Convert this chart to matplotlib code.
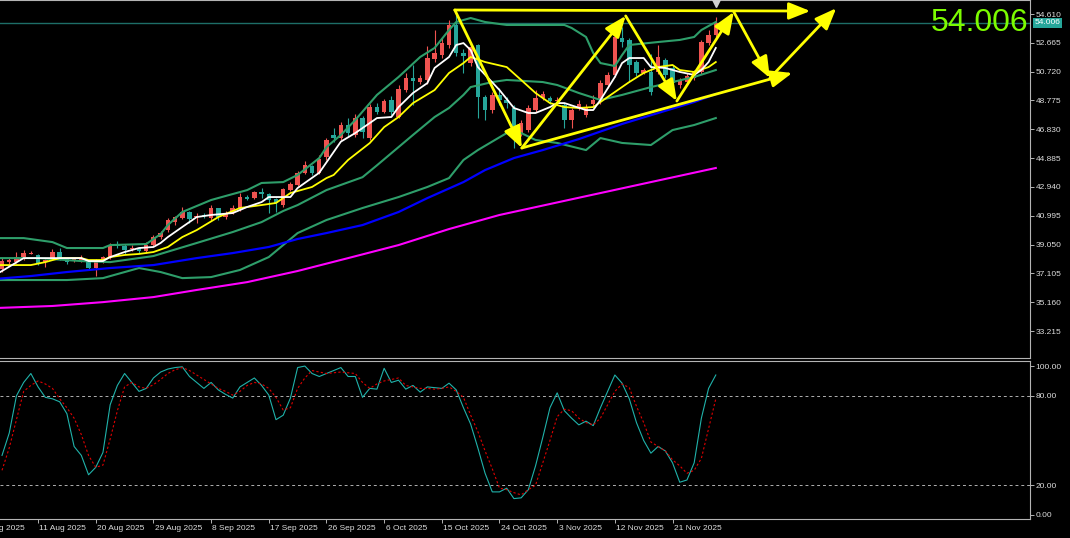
import matplotlib
matplotlib.use("Agg")
import matplotlib.pyplot as plt

plt.rcParams['font.family'] = ['Liberation Sans', 'DejaVu Sans']

# daily candles, bar 0 = 31 Jul 2025 ... bar 99 = 28 Nov 2025 (Sunday bars included)
opens = [37.40, 37.87, 37.87, 38.21, 38.45, 38.35, 37.87, 38.15, 38.55, 38.10,
         37.95, 38.00, 37.85, 37.45, 37.90, 38.15, 39.00, 38.95, 38.75, 38.80,
         38.60, 39.05, 39.55, 40.03, 40.55, 40.85, 41.25, 40.90, 41.05, 40.85,
         41.50, 40.90, 41.20, 41.50, 42.25, 42.20, 42.60, 42.45, 42.10, 41.70,
         42.75, 43.10, 43.85, 44.35, 43.90, 44.96, 46.45, 46.24, 47.12, 46.45,
         47.59, 46.24, 48.33, 48.00, 48.81, 47.66, 49.48, 50.29, 50.02, 50.16,
         51.57, 51.84, 52.52, 53.87, 51.98, 51.30, 52.52, 49.01, 48.13, 49.15,
         48.81, 48.27, 46.58, 46.78, 48.13, 48.94, 48.94, 48.74, 48.47, 47.46,
         48.27, 47.80, 48.54, 48.81, 49.82, 50.50, 52.99, 52.86, 51.37, 50.63,
         50.70, 50.70, 51.51, 50.97, 49.82, 50.02, 50.29, 50.70, 52.65, 53.19]
highs = [38.14, 38.14, 38.55, 38.70, 38.60, 38.45, 38.10, 38.75, 38.85, 38.15,
         38.10, 38.35, 37.90, 38.05, 38.30, 39.15, 39.30, 39.10, 39.00, 38.90,
         39.20, 39.70, 40.00, 40.85, 41.00, 41.60, 41.30, 41.20, 41.15, 41.70,
         41.55, 41.30, 41.70, 42.50, 42.40, 42.70, 42.90, 42.55, 42.20, 42.90,
         43.30, 44.00, 44.70, 44.40, 45.10, 46.24, 46.92, 47.32, 47.59, 47.86,
         47.73, 48.54, 48.60, 48.87, 49.08, 49.82, 50.63, 51.17, 50.50, 52.45,
         53.53, 52.99, 54.21, 54.54, 52.25, 52.72, 52.59, 49.15, 49.35, 49.62,
         49.01, 48.47, 47.46, 48.47, 49.48, 49.41, 49.08, 49.01, 48.60, 48.27,
         48.81, 48.54, 49.15, 50.16, 50.70, 53.40, 53.73, 52.99, 51.51, 50.97,
         51.91, 52.52, 51.64, 51.17, 50.29, 50.63, 50.83, 52.86, 53.53, 54.41]
lows = [37.20, 37.74, 37.80, 38.00, 38.40, 37.70, 37.55, 38.05, 38.00, 37.75,
        37.90, 37.90, 37.35, 36.95, 37.80, 38.10, 38.80, 38.40, 38.60, 38.50,
        38.50, 38.95, 39.45, 39.90, 40.40, 40.80, 40.50, 40.50, 40.85, 40.70,
        40.70, 40.80, 41.10, 41.30, 42.05, 42.10, 42.20, 41.20, 41.25, 41.60,
        42.70, 43.00, 43.80, 43.75, 43.80, 44.76, 45.97, 46.11, 46.38, 46.31,
        46.24, 46.11, 47.86, 47.93, 47.80, 47.59, 49.35, 48.47, 49.89, 49.89,
        51.37, 51.64, 52.32, 51.78, 50.63, 51.10, 47.59, 47.46, 47.93, 48.47,
        48.27, 45.57, 46.38, 46.65, 48.00, 48.81, 48.54, 48.60, 46.92, 46.92,
        48.13, 47.66, 48.40, 48.54, 49.62, 50.36, 52.38, 50.02, 50.43, 50.56,
        49.15, 50.56, 50.29, 49.68, 49.62, 49.89, 50.16, 50.56, 52.52, 53.06]
closes = [37.94, 38.00, 38.21, 38.48, 38.50, 37.80, 38.00, 38.55, 38.15, 37.90,
          38.05, 38.05, 37.45, 38.00, 38.20, 39.00, 38.95, 38.70, 38.80, 38.60,
          39.05, 39.55, 39.85, 40.70, 40.90, 41.25, 40.80, 41.00, 40.95, 41.50,
          40.90, 41.20, 41.55, 42.25, 42.15, 42.60, 42.45, 42.05, 41.85, 42.80,
          43.15, 43.90, 44.40, 43.85, 44.80, 46.11, 46.24, 47.12, 46.58, 47.59,
          46.65, 48.33, 48.00, 48.74, 48.00, 49.55, 50.29, 50.09, 50.29, 51.64,
          51.98, 52.65, 53.87, 51.98, 51.78, 52.38, 49.01, 48.13, 49.15, 48.81,
          48.60, 46.58, 47.25, 48.27, 48.94, 49.21, 48.74, 48.81, 47.46, 48.13,
          48.54, 48.33, 48.81, 49.95, 50.50, 53.06, 52.72, 51.17, 50.63, 50.83,
          49.35, 51.71, 50.50, 49.95, 50.16, 50.43, 50.70, 52.72, 53.19, 54.006]
last_price = 54.006

# indicator lines (bar index, price)
bb_up_i = [-1, 3, 7, 9, 14, 15, 20, 22, 23, 25, 29, 31, 34, 36, 39, 41, 44, 45, 47, 49, 52, 55, 58, 60,
           62, 63, 65, 67, 70, 74, 78, 79, 81, 82, 83, 85, 86, 87, 91, 94, 96, 97, 99]
bb_up = [39.49, 39.49, 39.22, 38.82, 38.82, 39.02, 39.09, 39.76, 40.37, 41.25, 42.06, 42.33, 42.73, 43.21,
         43.27, 43.75, 44.89, 45.63, 46.45, 47.46, 49.15, 50.36, 51.71, 52.32, 53.53, 54.07, 54.34, 54.07,
         53.87, 53.87, 53.87, 53.67, 53.06, 51.98, 51.30, 51.10, 51.84, 52.52, 52.72, 52.86, 53.06, 53.53, 54.07]
bb_mid_i = [-1, 5, 11, 15, 21, 27, 32, 36, 39, 41, 45, 50, 52, 57, 60, 62, 64, 65, 68, 70, 75, 77, 80, 83,
            86, 90, 93, 96, 99]
bb_mid = [38.14, 38.14, 37.94, 37.87, 38.28, 39.16, 39.90, 40.57, 41.32, 41.72, 42.73, 43.60, 44.40, 46.45,
          47.66, 48.27, 49.15, 49.68, 50.02, 50.16, 50.02, 49.82, 49.28, 48.81, 49.15, 49.68, 50.02, 50.36, 50.83]
bb_lo_i = [-1, 9, 14, 19, 22, 25, 29, 33, 37, 41, 45, 50, 55, 59, 62, 64, 66, 70, 72, 74, 77, 81, 83, 86,
           90, 93, 96, 99]
bb_lo = [36.66, 36.66, 36.79, 37.47, 37.20, 36.79, 36.86, 37.34, 38.21, 39.83, 40.71, 41.52, 42.26, 42.94,
         43.54, 44.76, 45.43, 46.58, 46.58, 46.11, 45.91, 45.43, 46.24, 45.91, 45.77, 46.78, 47.12, 47.59]
white_i = [-1, 0, 3, 8, 11, 12, 14, 15, 17, 19, 21, 22, 23, 25, 27, 29, 32, 34, 36, 37, 40, 41, 44, 45, 46,
           47, 49, 51, 52, 54, 55, 57, 59, 60, 62, 63, 64, 65, 66, 69, 71, 73, 74, 76, 77, 78, 81, 82, 83, 85,
           86, 87, 89, 90, 92, 94, 96, 97, 98, 99]
white = [37.0, 37.27, 38.14, 38.14, 38.14, 37.94, 37.94, 38.21, 38.55, 38.82, 38.89, 39.16, 39.56, 40.24,
         40.91, 41.05, 41.18, 41.59, 41.92, 42.26, 42.26, 42.87, 43.90, 44.60, 45.30, 46.00, 46.58, 47.25,
         47.59, 47.66, 48.33, 49.28, 49.95, 50.97, 51.71, 52.52, 52.65, 52.18, 51.03, 49.48, 48.27, 47.93,
         47.93, 48.33, 48.60, 48.60, 48.13, 48.13, 48.81, 50.36, 51.30, 51.64, 51.64, 51.03, 50.97, 50.70,
         50.50, 50.83, 51.37, 52.32]
yellow_i = [-1, 0, 4, 6, 8, 10, 11, 12, 14, 15, 17, 19, 21, 23, 25, 27, 30, 33, 36, 38, 40, 43, 45, 46, 48,
            51, 53, 55, 57, 60, 62, 64, 65, 67, 70, 72, 74, 76, 78, 80, 82, 84, 87, 89, 91, 93, 94, 96, 98, 99]
yellow = [37.67, 37.67, 37.67, 37.87, 38.14, 38.14, 38.14, 38.01, 38.01, 38.21, 38.35, 38.42, 38.55, 38.89,
          39.56, 40.03, 40.91, 41.52, 41.72, 41.86, 42.53, 42.94, 43.54, 43.75, 44.76, 45.90, 46.98, 47.66,
          48.60, 49.48, 50.63, 51.30, 51.71, 51.37, 51.03, 50.16, 49.28, 48.60, 48.33, 48.27, 48.33, 49.01,
          50.02, 50.63, 51.03, 51.17, 50.83, 50.70, 51.03, 51.37]
blue_i = [-1, 4, 9, 15, 21, 27, 32, 37, 41, 45, 50, 55, 59, 64, 67, 71, 75, 80, 86, 91, 96, 99]
blue = [36.73, 36.93, 37.20, 37.47, 37.67, 38.14, 38.48, 38.89, 39.43, 39.83, 40.37, 41.25, 42.19, 43.27,
        44.08, 44.89, 45.43, 46.17, 47.19, 47.93, 48.67, 49.21]
magenta_i = [-1, 7, 14, 21, 27, 34, 41, 48, 55, 62, 69, 76, 83, 90, 99]
magenta = [34.77, 34.91, 35.17, 35.51, 35.99, 36.52, 37.27, 38.14, 39.02, 40.10, 41.05, 41.79, 42.53,
           43.27, 44.22]

# stochastic, one value per bar
stoch_main = [40, 55, 80, 89, 95, 86, 79, 78, 76, 68,
              46, 40, 27, 32, 42, 74, 87, 95, 89, 83,
              85, 92, 96, 98, 99, 99.5, 93, 89, 85, 89,
              84, 81, 78.5, 86, 89, 92, 87, 80.5, 64, 67,
              78.5, 99, 100, 95, 93, 95, 97, 99, 93, 93,
              79, 85, 84.5, 98.5, 89, 90.5, 84.5, 87, 82.5, 86,
              85.5, 85, 88.5, 84, 72, 61, 45, 28, 15.5, 15.5,
              18, 11, 11.5, 17, 33, 52, 72, 82, 70, 65,
              60.5, 63, 60, 72, 83, 94, 88.5, 78, 62, 50,
              41.5, 46, 43, 35, 22, 23.5, 35, 65, 85, 94]
stoch_signal = [30, 45, 64, 83, 87, 90, 88, 85, 78, 72,
                65, 54, 40, 32, 33.5, 51, 70, 86, 89, 86,
                85, 87.5, 91, 95, 97.5, 99, 97, 94, 91, 88,
                85, 83, 80.5, 83, 87, 89, 88, 85, 79, 70.5,
                72, 85, 92, 97, 96, 95, 95.5, 96, 95.5, 95,
                89, 85, 88, 90, 91, 92, 87, 86, 85, 85,
                84.5, 85, 86, 83, 79, 67, 56, 43, 31, 18,
                17, 15, 13.5, 17, 20, 35, 50, 66, 71, 70,
                65, 62, 60.5, 65, 74, 83, 88, 85.5, 73, 62,
                49, 46, 43, 37, 33, 28, 30, 38, 58, 78]

# hand-drawn pattern (bar index, price)
zigzag_i = [62.8, 72.1, 86.5, 93.6, 101.5, 106.5, 115.7]
zigzag_p = [54.88, 45.57, 54.48, 48.74, 54.75, 50.29, 55.0]
top_line_i = [62.8, 112.1]
top_line_p = [54.88, 54.81]
trend_i = [72.1, 109.6]
trend_p = [45.57, 50.63]

price_ticks = [54.610, 52.665, 50.720, 48.775, 46.830, 44.885, 42.940, 40.995, 39.050, 37.105, 35.160, 33.215]
stoch_ticks = [100, 80, 20, 0]
date_idx = [-3, 5, 13, 21, 29, 37, 45, 53, 61, 69, 77, 85, 93]
date_labels = ['1 Aug 2025', '11 Aug 2025', '20 Aug 2025', '29 Aug 2025', '8 Sep 2025', '17 Sep 2025',
               '26 Sep 2025', '6 Oct 2025', '15 Oct 2025', '24 Oct 2025', '3 Nov 2025', '12 Nov 2025',
               '21 Nov 2025']

W, H = 1070, 538
fig = plt.figure(figsize=(W / 100, H / 100), dpi=100, facecolor='black')
ax = fig.add_axes([0, 1 - 358 / H, 1030 / W, 358 / H], facecolor='black')
ax2 = fig.add_axes([0, 1 - 519 / H, 1030 / W, 158 / H], facecolor='black')

axis_col = '#b4b4b4'
text_col = '#dcdcdc'
for a in (ax, ax2):
    a.set_xlim(-0.28, 142.58)
    a.spines['left'].set_visible(False)
    for s in ('top', 'bottom', 'right'):
        a.spines[s].set_color(axis_col)
        a.spines[s].set_linewidth(0.8)
    a.yaxis.tick_right()
    a.tick_params(axis='y', length=3, width=0.7, color=axis_col, labelcolor=text_col, labelsize=6, pad=1)

# main panel
ax.set_ylim(31.40, 55.555)
ax.set_xticks([])
ax.set_yticks(price_ticks)
ax.set_yticklabels([f'{p:.3f}' for p in price_ticks])

n = len(closes)
idx = list(range(n))
cols = ['#ef5350' if c >= o else '#26a69a' for o, c in zip(opens, closes)]
ax.vlines(idx, lows, highs, colors=cols, lw=0.8, zorder=2)
bottoms = [min(o, c) for o, c in zip(opens, closes)]
heights = [max(abs(c - o), 0.05) for o, c in zip(opens, closes)]
ax.bar(idx, heights, bottom=bottoms, width=0.62, color=cols, linewidth=0, zorder=3)

ax.axhline(last_price, color='#1d6e67', lw=1.0, zorder=1)

band_col = '#2e9e6a'
ax.plot(bb_up_i, bb_up, color=band_col, lw=1.5, zorder=4)
ax.plot(bb_mid_i, bb_mid, color=band_col, lw=1.5, zorder=4)
ax.plot(bb_lo_i, bb_lo, color=band_col, lw=1.5, zorder=4)
ax.plot(magenta_i, magenta, color='#ff00ff', lw=1.5, zorder=4)
ax.plot(blue_i, blue, color='#0000ff', lw=1.6, zorder=4)
ax.plot(yellow_i, yellow, color='#ffff00', lw=1.3, zorder=5)
ax.plot(white_i, white, color='#ffffff', lw=1.3, zorder=5)

arrow = dict(arrowstyle='-|>,head_length=0.65,head_width=0.26', color='#ffff00', lw=2.0,
             shrinkA=0, shrinkB=0, mutation_scale=20)
for k in range(len(zigzag_i) - 1):
    ax.annotate('', xy=(zigzag_i[k + 1], zigzag_p[k + 1]), xytext=(zigzag_i[k], zigzag_p[k]),
                arrowprops=arrow, zorder=6, annotation_clip=False)
ax.annotate('', xy=(top_line_i[1], top_line_p[1]), xytext=(top_line_i[0], top_line_p[0]),
            arrowprops=arrow, zorder=6, annotation_clip=False)
ax.annotate('', xy=(trend_i[1], trend_p[1]), xytext=(trend_i[0], trend_p[0]),
            arrowprops=arrow, zorder=6, annotation_clip=False)

# chart shift marker
ax.plot([n - 1], [55.35], marker='v', color='#d0d0d0', ms=6, clip_on=False, zorder=7)

ax.annotate(f'{last_price:.3f}', xy=(1.0, last_price), xycoords=('axes fraction', 'data'),
            xytext=(3, 0), textcoords='offset points', ha='left', va='center', fontsize=6,
            color='white', annotation_clip=False,
            bbox=dict(boxstyle='square,pad=0.2', fc='#26a69a', ec='none'))
fig.text(1028 / W, 1 - 23 / H, f'{last_price:.3f}', ha='right', va='center', fontsize=23, color='#7cfc00')

# stochastic panel
ax2.set_ylim(-2.7, 103.4)
ax2.set_yticks(stoch_ticks)
ax2.set_yticklabels([f'{v:.2f}' for v in stoch_ticks])
ax2.axhline(80, color='#b0b0b0', lw=0.7, ls=(0, (3, 3)))
ax2.axhline(20, color='#b0b0b0', lw=0.7, ls=(0, (3, 3)))
ax2.plot(idx, stoch_main, color='#20b2aa', lw=0.8)
ax2.plot(idx, stoch_signal, color='#e00000', lw=0.8, ls=(0, (2, 2)))

ax2.set_xticks([d for d in date_idx if d >= 0])
ax2.set_xticklabels([])
ax2.tick_params(axis='x', length=3, width=0.7, color=axis_col)
for d, lab in zip(date_idx, date_labels):
    ax2.annotate(lab, xy=(d, 0), xycoords=('data', 'axes fraction'), xytext=(1, -4),
                 textcoords='offset points', ha='left', va='top', fontsize=6, color=text_col,
                 annotation_clip=False)

fig.savefig('out.png', dpi=100, facecolor='black')
